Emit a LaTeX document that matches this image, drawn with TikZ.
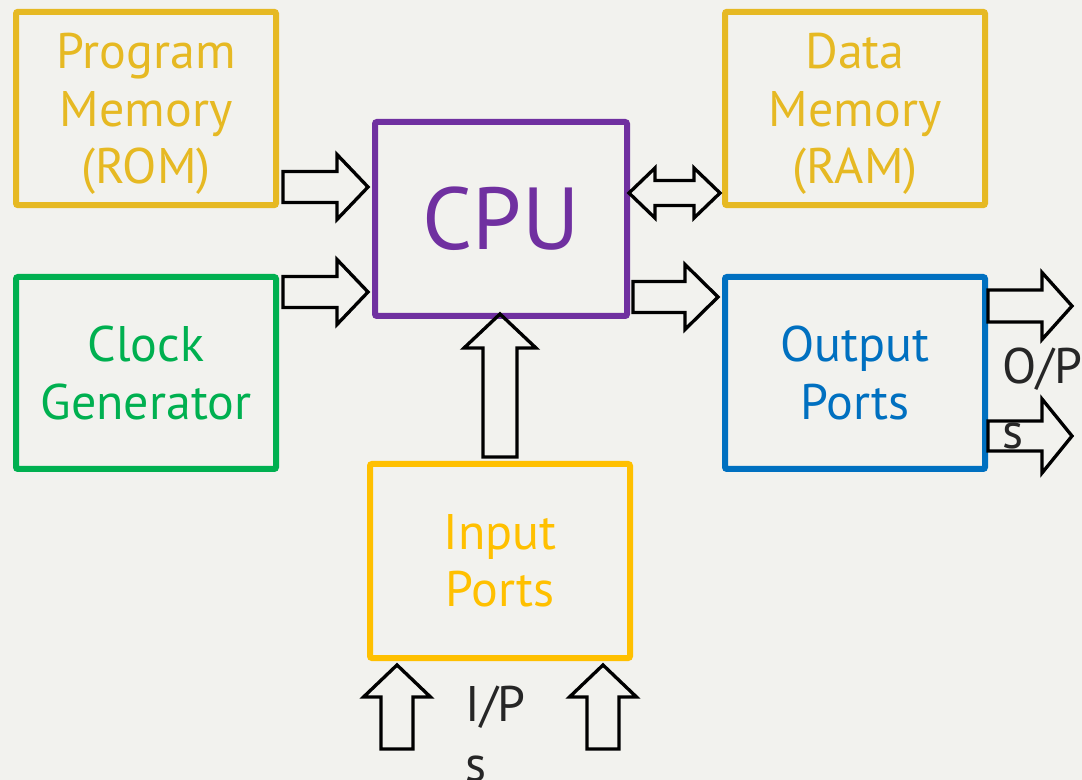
\documentclass[tikz,border=0pt]{standalone}
\usepackage{fontspec}
\setmainfont{PT Sans}
\usetikzlibrary{calc}

\definecolor{paper}{HTML}{F2F2EE}
\definecolor{romgold}{HTML}{E6B923}
\definecolor{clkgreen}{HTML}{00B050}
\definecolor{cpupurple}{HTML}{7030A0}
\definecolor{outblue}{HTML}{0070C0}
\definecolor{inyellow}{HTML}{FFC000}

\tikzset{every picture/.style={line width=0.75pt}}
\tikzset{
  unit/.style={draw, line width=4.5pt, rounded corners=1.5pt, inner sep=0pt, align=center,
    font=\fontsize{37.5}{43}\selectfont, minimum width=195pt, minimum height=145pt},
  hollow/.style={draw=black, line width=2.5pt},
  fat/.style args={#1/#2/#3}{to path={
    let \p1=($(\tikztotarget)!#3*0.75pt!(\tikztostart)$) in
    ($(\tikztostart)!#1*0.75pt!90:(\tikztotarget)$)
    -- ($(\p1)!#1*0.75pt!90:(\tikztotarget)$)
    -- ($(\p1)!#2*0.75pt!90:(\tikztotarget)$)
    -- (\tikztotarget)
    -- ($(\p1)!#2*0.75pt!-90:(\tikztotarget)$)
    -- ($(\p1)!#1*0.75pt!-90:(\tikztotarget)$)
    -- ($(\tikztostart)!#1*0.75pt!-90:(\tikztotarget)$)
    -- cycle}},
  fatboth/.style args={#1/#2/#3}{to path={
    let \p1=($(\tikztostart)!#3*0.75pt!(\tikztotarget)$),
        \p2=($(\tikztotarget)!#3*0.75pt!(\tikztostart)$) in
    (\tikztostart)
    -- ($(\p1)!#2*0.75pt!90:(\tikztotarget)$)
    -- ($(\p1)!#1*0.75pt!90:(\tikztotarget)$)
    -- ($(\p2)!#1*0.75pt!90:(\tikztotarget)$)
    -- ($(\p2)!#2*0.75pt!90:(\tikztotarget)$)
    -- (\tikztotarget)
    -- ($(\p2)!#2*0.75pt!-90:(\tikztotarget)$)
    -- ($(\p2)!#1*0.75pt!-90:(\tikztotarget)$)
    -- ($(\p1)!#1*0.75pt!-90:(\tikztotarget)$)
    -- ($(\p1)!#2*0.75pt!-90:(\tikztotarget)$)
    -- cycle}},
  tag/.style={anchor=north west, inner sep=0pt, align=left, text=black!85,
    font=\fontsize{37.5}{43}\selectfont}
}

\begin{document}
\begin{tikzpicture}[x=0.75pt,y=0.75pt,yscale=-1,xscale=1]
    \fill[paper] (0,0) rectangle (1082,780);
    \useasboundingbox (0,0) rectangle (1082,780);

    % Blocks
    \node[unit, draw=romgold, text=romgold, text depth=0pt] (prog) at (146,108.5) {Program\\Memory\\(ROM)};
    \node[unit, draw=romgold, text=romgold, text depth=0pt] (data) at (855,108.5) {Data\\Memory\\(RAM)};
    \node[unit, draw=clkgreen, text=clkgreen, minimum height=144pt] (clock) at (146,373) {Clock\\Generator};
    \node[unit, draw=outblue, text=outblue, minimum height=144pt] (output) at (855,373) {Output\\Ports};
    \node[unit, draw=cpupurple, text=cpupurple, minimum width=189pt, minimum height=145.5pt,
      font=\fontsize{66}{70}\selectfont] (cpu) at (501,219) {CPU};
    \node[unit, draw=inyellow, text=inyellow, minimum height=145.5pt] (input) at (500,561) {Input\\Ports};

    % Arrow ends
    \coordinate (romA) at ($(prog.east)+(4,78.5)$);
    \coordinate (romB) at ($(cpu.west|-romA)+(-4,0)$);
    \coordinate (clkA) at ($(clock.east)+(4,-81)$);
    \coordinate (clkB) at ($(cpu.west|-clkA)+(-4,0)$);
    \coordinate (ramA) at ($(cpu.east)+(-1,-26)$);
    \coordinate (ramB) at ($(data.west|-ramA)+(-2,0)$);
    \coordinate (outA) at ($(cpu.east)+(3,78)$);
    \coordinate (outB) at ($(output.west|-outA)+(-4,0)$);
    \coordinate (opA1) at ($(output.east)+(0,-67)$);
    \coordinate (opB1) at ($(opA1)+(84,0)$);
    \coordinate (opA2) at ($(output.east)+(0,63)$);
    \coordinate (opB2) at ($(opA2)+(84,0)$);
    \coordinate (inA) at ($(input.north)+(0,-4)$);
    \coordinate (inB) at ($(cpu.south-|inA)+(0,-5)$);
    \coordinate (ipB1) at ($(input.south)+(-103,4)$);
    \coordinate (ipA1) at ($(ipB1)+(0,84)$);
    \coordinate (ipB2) at ($(input.south)+(103,4)$);
    \coordinate (ipA2) at ($(ipB2)+(0,84)$);

    % Arrows
    \draw[hollow] (romA) to[fat=15.5/32.5/31] (romB);
    \draw[hollow] (clkA) to[fat=15.5/32.5/31] (clkB);
    \draw[hollow] (ramA) to[fatboth=12.5/25/26] (ramB);
    \draw[hollow] (outA) to[fat=15.5/32.5/33] (outB);
    \draw[hollow] (opA1) to[fat=16/33.5/30] (opB1);
    \draw[hollow] (opA2) to[fat=15/37/30] (opB2);
    \draw[hollow] (inA) to[fat=17/36/34] (inB);
    \draw[hollow] (ipA1) to[fat=16/33.5/32] (ipB1);
    \draw[hollow] (ipA2) to[fat=16/33.5/32] (ipB2);

    % Port labels
    \node[tag] (optext) at (1002,347) {O/P\\[6pt]s};
    \node[tag] (iptext) at (465,685) {I/P\\[2pt]s};

\end{tikzpicture}
\end{document}
